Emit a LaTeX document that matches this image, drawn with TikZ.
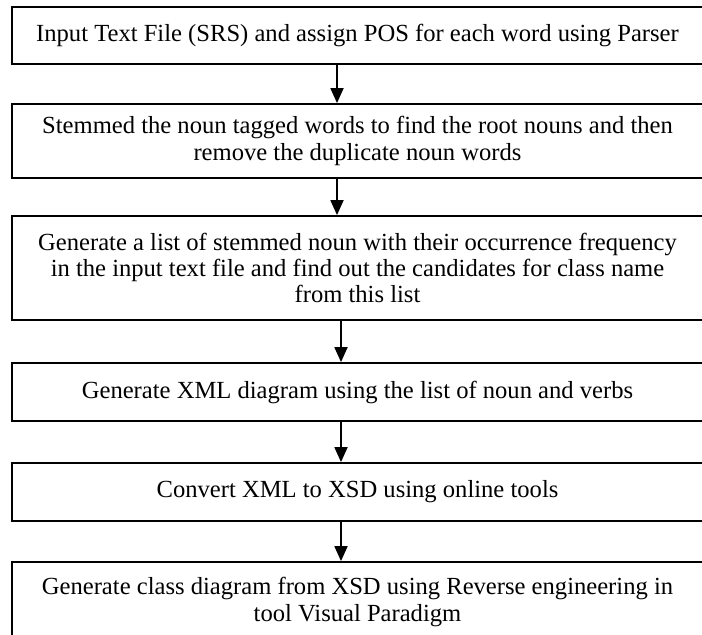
\documentclass[tikz,border=0pt]{standalone}
\usepackage{fontspec}
\setmainfont{Liberation Serif}
\usetikzlibrary{arrows.meta}

\begin{document}
\begin{tikzpicture}[x=0.5pt, y=-0.5pt,
stepnode/.style={rectangle, draw=black, line width=0.9pt, minimum width=345.5pt, inner sep=0pt, align=center, font=\fontsize{12.3}{13.2}\selectfont},
flowarrow/.style={line width=0.9pt, -{Triangle[width=6.5pt,length=7.5pt]}}
]
    \useasboundingbox (0,0) rectangle (702,634);

    \node [stepnode, minimum height=28.5pt] (s1) at (357.5,35.5) {Input Text File (SRS) and assign POS for each word using Parser};
    \node [stepnode, minimum height=37pt] (s2) at (357.5,141) {Stemmed the noun tagged words to find the root nouns and then\\remove the duplicate noun words};
    \node [stepnode, minimum height=52pt] (s3) at (357.5,268) {Generate a list of stemmed noun with their occurrence frequency\\in the input text file and find out the candidates for class name\\from this list};
    \node [stepnode, minimum height=29pt] (s4) at (357.5,392) {Generate XML diagram using the list of noun and verbs};
    \node [stepnode, minimum height=29pt] (s5) at (357.5,492) {Convert XML to XSD using online tools};
    \node [stepnode, minimum height=40pt] (s6) at (357.5,602) {Generate class diagram from XSD using Reverse engineering in\\tool Visual Paradigm};

    \draw [flowarrow] ([xshift=-10.25pt]s1.south) -- ([xshift=-10.25pt]s2.north);
    \draw [flowarrow] ([xshift=-10.25pt]s2.south) -- ([xshift=-10.25pt]s3.north);
    \draw [flowarrow] ([xshift=-8.25pt]s3.south) -- ([xshift=-8.25pt]s4.north);
    \draw [flowarrow] ([xshift=-8.25pt]s4.south) -- ([xshift=-8.25pt]s5.north);
    \draw [flowarrow] ([xshift=-8.25pt]s5.south) -- ([xshift=-8.25pt]s6.north);
\end{tikzpicture}
\end{document}
